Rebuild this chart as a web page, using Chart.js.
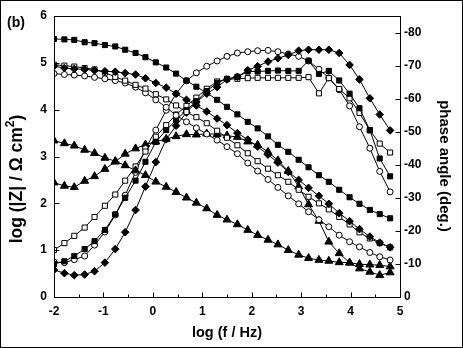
<!DOCTYPE html>
<html><head><meta charset="utf-8">
<script src="https://cdn.jsdelivr.net/npm/chart.js@4.4.1/dist/chart.umd.min.js"></script>
<style>html,body{margin:0;padding:0;background:#fff;overflow:hidden}</style>
</head><body>
<canvas id="c" width="463" height="348"></canvas>
<script>
// x values: log (f / Hz)
const logF = [-2.00,-1.79,-1.59,-1.38,-1.18,-0.97,-0.76,-0.56,-0.35,-0.15,0.06,0.27,0.47,0.68,0.88,1.09,1.30,1.50,1.71,1.92,2.12,2.33,2.53,2.74,2.95,3.15,3.36,3.56,3.77,3.98,4.18,4.39,4.59,4.80];
// log |Z| series
const zSquareFilled = [5.51,5.50,5.49,5.44,5.42,5.38,5.35,5.28,5.21,5.12,5.01,4.90,4.77,4.62,4.49,4.36,4.21,4.06,3.90,3.74,3.60,3.43,3.25,3.10,2.93,2.77,2.60,2.46,2.29,2.13,1.99,1.86,1.77,1.68];
const zDiamond = [4.93,4.89,4.87,4.86,4.84,4.82,4.81,4.78,4.75,4.67,4.57,4.47,4.34,4.21,4.09,3.96,3.81,3.67,3.50,3.36,3.21,3.04,2.87,2.67,2.50,2.33,2.16,1.99,1.79,1.62,1.45,1.29,1.16,1.06];
const zSquareOpen = [4.96,4.94,4.92,4.89,4.86,4.79,4.70,4.62,4.53,4.45,4.33,4.22,4.09,3.95,3.84,3.71,3.55,3.40,3.24,3.07,2.90,2.74,2.60,2.46,2.29,2.14,2.00,1.87,1.71,1.55,1.38,1.25,1.15,1.06];
const zCircle = [4.77,4.75,4.74,4.72,4.69,4.66,4.62,4.57,4.48,4.36,4.21,4.05,3.88,3.74,3.61,3.48,3.35,3.21,3.06,2.86,2.69,2.51,2.34,2.16,1.99,1.82,1.65,1.50,1.32,1.18,1.07,0.95,0.86,0.79];
const zTriangle = [3.34,3.28,3.23,3.14,3.07,2.97,2.90,2.81,2.70,2.60,2.46,2.35,2.24,2.12,2.01,1.89,1.75,1.65,1.55,1.43,1.32,1.22,1.12,1.00,0.90,0.83,0.79,0.77,0.74,0.73,0.70,0.69,0.68,0.65];
// phase angle (deg.) series
const pSquareFilled = [-10.0,-10.8,-12.4,-14.5,-16.9,-20.3,-25.0,-30.0,-35.2,-40.9,-46.9,-50.5,-53.5,-56.5,-59.2,-62.3,-64.8,-66.0,-66.6,-68.2,-68.2,-68.4,-68.5,-68.4,-68.4,-71.5,-67.5,-68.4,-65.5,-61.5,-57.1,-50.5,-41.9,-36.5];
const pDiamond = [-8.2,-7.2,-6.6,-6.8,-7.8,-10.4,-14.5,-19.6,-26.3,-33.4,-40.8,-47.7,-51.8,-55.8,-59.0,-61.5,-63.5,-65.8,-66.6,-68.6,-69.8,-71.2,-72.2,-73.2,-74.5,-74.8,-74.8,-74.8,-73.8,-70.2,-65.8,-60.1,-55.2,-50.4];
const pSquareOpen = [-14.2,-16.3,-18.5,-21.0,-24.2,-27.6,-31.0,-35.2,-39.5,-44.0,-48.5,-52.0,-55.2,-57.8,-60.3,-63.0,-65.2,-65.9,-66.0,-66.2,-66.3,-66.3,-66.3,-66.3,-66.3,-66.5,-61.6,-66.2,-62.9,-60.1,-55.7,-50.4,-46.4,-43.7];
const pCircle = [-10.6,-10.4,-11.3,-12.4,-15.7,-19.7,-24.8,-30.8,-37.7,-44.9,-50.5,-56.5,-61.5,-65.4,-67.8,-69.8,-71.4,-72.8,-73.8,-74.2,-74.5,-74.6,-74.2,-73.5,-72.8,-71.4,-68.9,-66.3,-62.7,-57.8,-51.5,-45.0,-38.0,-31.8];
const pTriangle = [-34.6,-33.6,-33.2,-35.1,-36.5,-38.7,-40.9,-43.3,-44.9,-46.1,-47.0,-47.8,-48.6,-49.2,-49.1,-49.4,-49.2,-48.8,-48.4,-47.0,-46.0,-43.9,-41.3,-38.1,-33.4,-28.0,-23.0,-16.7,-13.2,-10.4,-8.6,-7.6,-6.6,-7.4];
// tick labels
const xTicks = [-2,-1,0,1,2,3,4,5];
const yTicks = [0,1,2,3,4,5,6];
const y1Ticks = [-80,-70,-60,-50,-40,-30,-20,-10,0];

const FONT = "Arial, 'Liberation Sans', Helvetica, sans-serif";

function ds(label, ys, axis, style, filled, r) {
  return {
    label, yAxisID: axis,
    data: logF.map((x, i) => ({ x, y: ys[i] })),
    borderColor: '#000', borderWidth: 1, tension: 0, fill: false,
    pointStyle: style, pointRadius: r, pointHoverRadius: r,
    pointBackgroundColor: filled ? '#000' : '#fff',
    pointBorderColor: '#000', pointBorderWidth: 1
  };
}

const datasets = [
  ds('|Z| square filled', zSquareFilled, 'y', 'rect', true, 3.6),
  ds('|Z| diamond', zDiamond, 'y', 'rectRot', true, 3.8),
  ds('|Z| square open', zSquareOpen, 'y', 'rect', false, 3.6),
  ds('|Z| circle', zCircle, 'y', 'circle', false, 3),
  ds('|Z| triangle', zTriangle, 'y', 'triangle', true, 4.6),
  ds('phase square filled', pSquareFilled, 'y1', 'rect', true, 3.6),
  ds('phase diamond', pDiamond, 'y1', 'rectRot', true, 3.8),
  ds('phase square open', pSquareOpen, 'y1', 'rect', false, 3.6),
  ds('phase circle', pCircle, 'y1', 'circle', false, 3),
  ds('phase triangle', pTriangle, 'y1', 'triangle', true, 4.6)
];

const tickFont = { family: FONT, size: 12, weight: 'bold' };

const decor = {
  id: 'decor',
  afterDraw(chart) {
    const ctx = chart.ctx, a = chart.chartArea;
    const sx = chart.scales.x, sy = chart.scales.y, sy1 = chart.scales.y1;
    const L = Math.round(a.left) + 0.5, R = Math.round(a.right) + 0.5;
    const T = Math.round(a.top) + 0.5, B = Math.round(a.bottom) + 0.5;
    ctx.save();
    ctx.strokeStyle = '#000'; ctx.lineWidth = 1;
    ctx.strokeRect(L, T, R - L, B - T);
    ctx.beginPath();
    // x ticks (major + minor), inward
    for (let v = -2; v <= 5.001; v += 0.5) {
      const px = Math.round(sx.getPixelForValue(v)) + 0.5;
      const len = Math.abs(v - Math.round(v)) < 1e-6 ? 5 : 3;
      ctx.moveTo(px, B); ctx.lineTo(px, B - len);
    }
    yTicks.forEach(v => {
      const py = Math.round(sy.getPixelForValue(v)) + 0.5;
      ctx.moveTo(L, py); ctx.lineTo(L + 5, py);
    });
    y1Ticks.forEach(v => {
      const py = Math.round(sy1.getPixelForValue(v)) + 0.5;
      ctx.moveTo(R, py); ctx.lineTo(R - 5, py);
    });
    ctx.stroke();

    ctx.fillStyle = '#000';
    // panel label
    ctx.font = 'bold 14px ' + FONT;
    ctx.textAlign = 'left'; ctx.textBaseline = 'middle';
    ctx.fillText('(b)', 7, 23);
    // x title
    ctx.font = 'bold 14.5px ' + FONT;
    ctx.textAlign = 'center';
    ctx.fillText('log (f / Hz)', 227, 333);
    // left title, rotated
    ctx.save();
    ctx.translate(17, 179);
    ctx.rotate(-Math.PI / 2);
    const big = 'bold 17.5px ' + FONT, small = 'bold 12px ' + FONT;
    const p1 = 'log (|Z| / \u03A9 cm', p2 = '2', p3 = ')';
    ctx.font = big; const w1 = ctx.measureText(p1).width, w3 = ctx.measureText(p3).width;
    ctx.font = small; const w2 = ctx.measureText(p2).width;
    let x0 = -(w1 + w2 + w3) / 2;
    ctx.textAlign = 'left';
    ctx.font = big; ctx.fillText(p1, x0, 0);
    ctx.font = small; ctx.fillText(p2, x0 + w1, -6);
    ctx.font = big; ctx.fillText(p3, x0 + w1 + w2, 0);
    ctx.restore();
    // right title, rotated
    ctx.save();
    ctx.translate(444, 166);
    ctx.rotate(Math.PI / 2);
    ctx.font = 'bold 15px ' + FONT;
    ctx.textAlign = 'center';
    ctx.fillText('phase angle (deg.)', 0, 0);
    ctx.restore();
    // outer frame
    ctx.strokeRect(0.5, 0.5, 462, 347);
    ctx.restore();
  }
};

new Chart(document.getElementById('c'), {
  type: 'line',
  data: { datasets },
  options: {
    responsive: false, animation: false, devicePixelRatio: 1,
    layout: { padding: { top: 16, left: 0, right: 0, bottom: 0 } },
    plugins: { legend: { display: false }, tooltip: { enabled: false } },
    scales: {
      x: {
        type: 'linear', min: -2, max: 5,
        grid: { display: false, drawTicks: false }, border: { display: false },
        ticks: { stepSize: 1, color: '#000', font: tickFont, padding: 7, maxRotation: 0,
          callback: v => xTicks.includes(v) ? String(v) : null },
        afterFit: s => { s.height = 51; }
      },
      y: {
        type: 'linear', position: 'left', min: 0, max: 6,
        grid: { display: false, drawTicks: false }, border: { display: false },
        ticks: { stepSize: 1, color: '#000', font: tickFont, padding: 7,
          callback: v => yTicks.includes(v) ? String(v) : null },
        afterFit: s => { s.width = 54; }
      },
      y1: {
        type: 'linear', position: 'right', min: -85, max: 0, reverse: true,
        grid: { display: false, drawTicks: false }, border: { display: false },
        ticks: { stepSize: 10, color: '#000', font: tickFont, padding: 4,
          callback: v => y1Ticks.includes(v) ? String(v) : null },
        afterFit: s => { s.width = 63; }
      }
    }
  },
  plugins: [decor]
});
</script>
</body></html>
